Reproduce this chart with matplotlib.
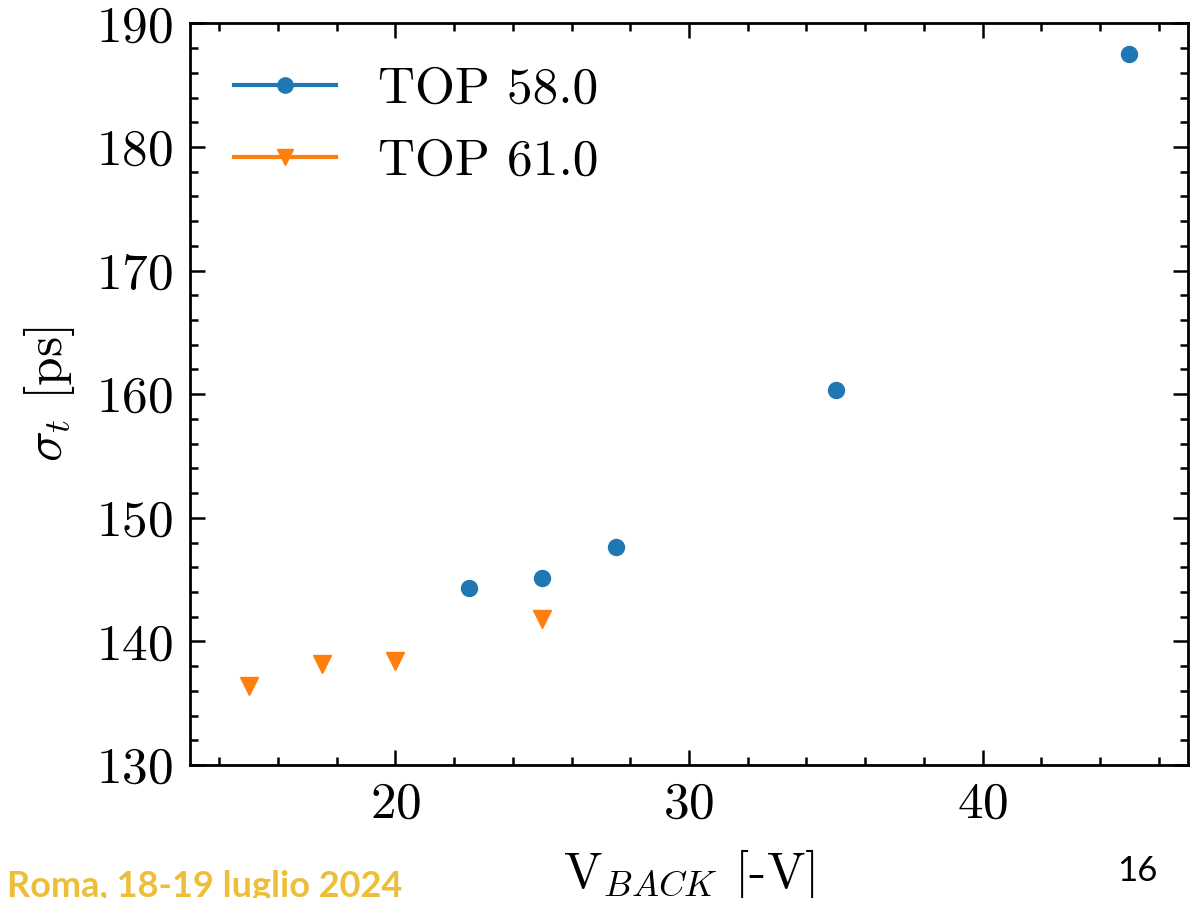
import matplotlib
matplotlib.use("Agg")
import matplotlib.pyplot as plt
from matplotlib.lines import Line2D
from matplotlib.ticker import MultipleLocator

# sigma_t vs back bias, two top-bias settings
v_back_58 = [22.5, 25.0, 27.5, 35.0, 45.0]
sigma_58 = [144.3, 145.1, 147.6, 160.3, 187.5]

v_back_61 = [15.0, 17.5, 20.0, 25.0]
sigma_61 = [136.4, 138.2, 138.4, 141.8]

labels = ["TOP 58.0", "TOP 61.0"]
colors = ["#1f77b4", "#ff7f0e"]

plt.rcParams["font.family"] = ["cmr10", "DejaVu Serif"]
plt.rcParams["mathtext.fontset"] = "cm"
plt.rcParams["axes.formatter.use_mathtext"] = True
plt.rcParams["axes.unicode_minus"] = False

fig = plt.figure(figsize=(11.99, 8.98), dpi=100)
ax = fig.add_axes([0.1585, 0.1481, 0.8323, 0.8259])

ax.plot(v_back_58, sigma_58, ls="none", marker="o", ms=11.5, color=colors[0])
ax.plot(v_back_61, sigma_61, ls="none", marker="v", ms=12.5, color=colors[1])

ax.set_xlim(13, 47)
ax.set_ylim(130, 190)
ax.xaxis.set_major_locator(MultipleLocator(10))
ax.xaxis.set_minor_locator(MultipleLocator(2))
ax.yaxis.set_major_locator(MultipleLocator(10))
ax.yaxis.set_minor_locator(MultipleLocator(2))

for side in ax.spines.values():
    side.set_linewidth(2.0)
ax.tick_params(which="both", direction="in", top=True, right=True,
               labelsize=37, width=1.8, pad=12)
ax.tick_params(which="major", length=11)
ax.tick_params(which="minor", length=6)

ax.set_xlabel(r"V$_{BACK}$ [-V]", fontsize=37, labelpad=14)
ax.set_ylabel(r"$\sigma_t$ [ps]", fontsize=37, labelpad=14)

handles = [
    Line2D([], [], color=colors[0], marker="o", ms=11, lw=3),
    Line2D([], [], color=colors[1], marker="v", ms=12, lw=3),
]
ax.legend(handles, labels, loc="upper left", frameon=False, fontsize=37,
          handlelength=2.0, handletextpad=0.8, labelspacing=0.5,
          borderaxespad=0.45)

fig.text(0.006, -0.006, "Roma, 18-19 luglio 2024", color="#EDBE38",
         fontsize=26, fontweight="bold", family="Lato", ha="left", va="bottom")
fig.text(0.965, 0.012, "16", color="black", fontsize=25, family="Lato",
         ha="right", va="bottom")

fig.savefig("out.png", dpi=100)
